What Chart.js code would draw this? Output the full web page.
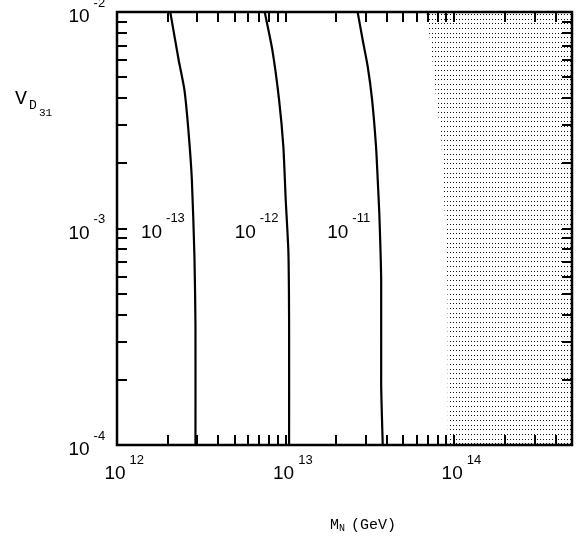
<!DOCTYPE html>
<html>
<head>
<meta charset="utf-8">
<script src="https://cdn.jsdelivr.net/npm/chart.js@4/dist/chart.umd.min.js"></script>
<style>
  html, body { margin: 0; padding: 0; background: #fff; }
  #wrap { width: 582px; height: 555px; }
</style>
</head>
<body>
<div id="wrap"><canvas id="chart" width="582" height="555"></canvas></div>
<script>
// contour 10^-13
const c13X = [2.07e12, 2.32e12, 2.51e12, 2.65e12, 2.78e12, 2.88e12, 2.92e12, 2.92e12];
const c13Y = [1e-2, 6.02e-3, 4.38e-3, 2.86e-3, 1.68e-3, 7.41e-4, 3.58e-4, 1e-4];
// contour 10^-12
const c12X = [7.52e12, 8.34e12, 9.15e12, 9.70e12, 1.002e13, 1.039e13, 1.049e13, 1.049e13];
const c12Y = [1e-2, 6.70e-3, 3.93e-3, 2.39e-3, 1.355e-3, 7.81e-4, 3.78e-4, 1e-4];
// contour 10^-11
const c11X = [2.675e13, 2.865e13, 3.07e13, 3.26e13, 3.44e13, 3.52e13, 3.60e13, 3.69e13, 3.69e13, 3.77e13];
const c11Y = [1e-2, 7.44e-3, 5.60e-3, 3.93e-3, 2.39e-3, 1.68e-3, 1.155e-3, 5.79e-4, 1.89e-4, 1e-4];
// excluded (dotted) region, boundary then right-hand corners
const shadeX = [6.84e13, 7.31e13, 7.83e13, 8.39e13, 8.99e13, 9.15e13, 9.18e13, 5e14, 5e14];
const shadeY = [1e-2, 6.70e-3, 3.93e-3, 2.57e-3, 7.96e-4, 4.68e-4, 1e-4, 1e-4, 1e-2];

const curveExps = ['-13', '-12', '-11'];
const xPowers = [12, 13, 14];
const yPowers = [-2, -3, -4];
const xMin = 1e12, xMax = 5e14, yMin = 1e-4, yMax = 1e-2;

const pts = (xs, ys) => xs.map((x, i) => ({ x, y: ys[i] }));

function dotPattern(ctx) {
  const c = document.createElement('canvas');
  c.width = 3; c.height = 14;
  const g = c.getContext('2d');
  g.fillStyle = '#111';
  [0, 5, 9].forEach(y => g.fillRect(0, y, 1, 1));
  return ctx.createPattern(c, 'repeat');
}

// log ticks 1..9 x 10^n inside [lo, hi]
function logTicks(lo, hi) {
  const out = [];
  for (let e = Math.floor(Math.log10(lo)); e <= Math.ceil(Math.log10(hi)); e++) {
    for (let s = 1; s < 10; s++) {
      const v = s * Math.pow(10, e);
      if (v > lo * 1.0001 && v < hi * 0.9999) out.push(v);
    }
  }
  return out;
}

function pow10(ctx, exp, cx, cy) {
  ctx.fillStyle = '#000';
  ctx.font = '19px "Liberation Sans", Arial, sans-serif';
  ctx.textAlign = 'center';
  ctx.textBaseline = 'middle';
  ctx.fillText('10', cx, cy);
  const w = ctx.measureText('10').width;
  ctx.font = '13px "Liberation Sans", Arial, sans-serif';
  ctx.textAlign = 'left';
  ctx.fillText(exp, cx + w / 2 + 4, cy - 14);
}

const shadePlugin = {
  id: 'shade',
  beforeDatasetsDraw(chart) {
    const meta = chart.getDatasetMeta(3);
    const ctx = chart.ctx;
    ctx.save();
    ctx.beginPath();
    meta.data.forEach((p, i) => i ? ctx.lineTo(p.x, p.y) : ctx.moveTo(p.x, p.y));
    ctx.closePath();
    ctx.fillStyle = dotPattern(ctx);
    ctx.fill();
    ctx.restore();
  }
};

const axesPlugin = {
  id: 'axes',
  afterDraw(chart) {
    const { ctx, chartArea: a, scales: { x, y } } = chart;
    const tl = 10;
    ctx.save();
    ctx.strokeStyle = '#000';
    ctx.lineWidth = 2;
    ctx.beginPath();
    logTicks(xMin, xMax).forEach(v => {
      const px = Math.round(x.getPixelForValue(v));
      ctx.moveTo(px, a.bottom); ctx.lineTo(px, a.bottom - tl);
      ctx.moveTo(px, a.top); ctx.lineTo(px, a.top + tl);
    });
    logTicks(yMin, yMax).forEach(v => {
      const py = Math.round(y.getPixelForValue(v));
      ctx.moveTo(a.left, py); ctx.lineTo(a.left + tl, py);
      ctx.moveTo(a.right, py); ctx.lineTo(a.right - tl, py);
    });
    ctx.stroke();
    ctx.lineWidth = 2.5;
    ctx.strokeRect(a.left, a.top, a.right - a.left, a.bottom - a.top);

    xPowers.forEach(p => pow10(ctx, String(p), x.getPixelForValue(Math.pow(10, p)) - 2, 474));
    yPowers.forEach(p => pow10(ctx, String(p), 79, y.getPixelForValue(Math.pow(10, p)) + 5));

    // contour labels, just left of each curve at 10^-3
    [0, 1, 2].forEach(i => {
      const meta = chart.getDatasetMeta(i);
      const yp = y.getPixelForValue(1e-3);
      let xp = meta.data[0].x;
      for (let k = 1; k < meta.data.length; k++) {
        const p0 = meta.data[k - 1], p1 = meta.data[k];
        if (yp >= p0.y && yp <= p1.y) { xp = p0.x + (p1.x - p0.x) * (yp - p0.y) / (p1.y - p0.y); break; }
      }
      pow10(ctx, curveExps[i], xp - 42, yp + 4);
    });

    // axis titles
    ctx.textAlign = 'left';
    ctx.textBaseline = 'alphabetic';
    ctx.font = '15px "Liberation Mono", monospace';
    ctx.fillText('M', 330, 529);
    ctx.font = '10px "Liberation Mono", monospace';
    ctx.fillText('N', 339, 531);
    ctx.font = '15px "Liberation Mono", monospace';
    ctx.fillText('(GeV)', 351, 529);

    ctx.font = '20px "Liberation Mono", monospace';
    ctx.fillText('V', 15, 104);
    ctx.font = '13px "Liberation Mono", monospace';
    ctx.fillText('D', 29, 109);
    ctx.font = '11px "Liberation Mono", monospace';
    ctx.fillText('31', 39, 116);
    ctx.restore();
  }
};

const line = (data) => ({
  data, showLine: true, borderColor: '#000', borderWidth: 2.2,
  pointRadius: 0, tension: 0.2, fill: false
});

new Chart(document.getElementById('chart'), {
  type: 'scatter',
  data: {
    datasets: [
      line(pts(c13X, c13Y)),
      line(pts(c12X, c12Y)),
      line(pts(c11X, c11Y)),
      { data: pts(shadeX, shadeY), showLine: false, pointRadius: 0 }
    ]
  },
  options: {
    responsive: false,
    animation: false,
    devicePixelRatio: 1,
    layout: { padding: { left: 117, top: 12, right: 10, bottom: 110 } },
    plugins: { legend: { display: false }, tooltip: { enabled: false } },
    scales: {
      x: { type: 'logarithmic', min: xMin, max: xMax, display: false },
      y: { type: 'logarithmic', min: yMin, max: yMax, display: false }
    }
  },
  plugins: [shadePlugin, axesPlugin]
});
</script>
</body>
</html>
